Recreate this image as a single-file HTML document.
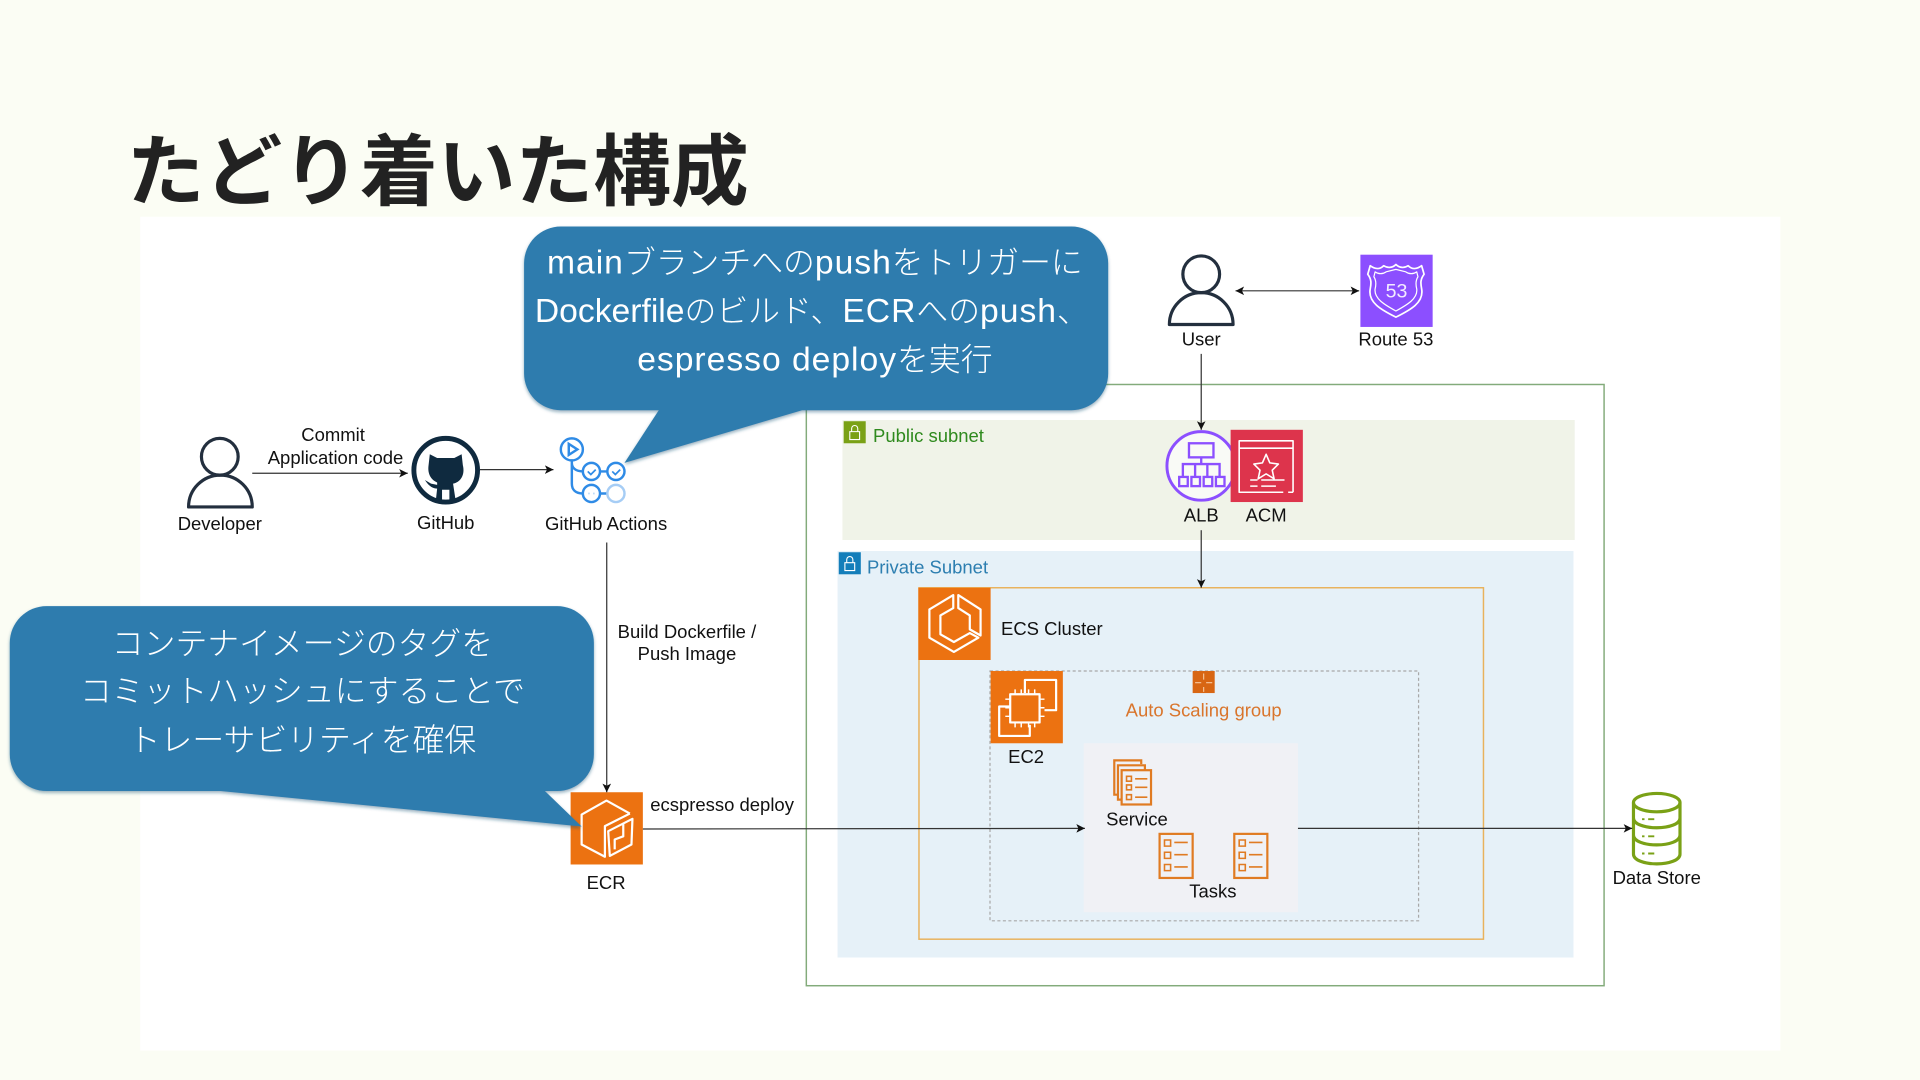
<!DOCTYPE html>
<html lang="ja"><head><meta charset="utf-8"><title>たどり着いた構成</title>
<style>html,body{margin:0;padding:0;background:#fbfdf4;width:1920px;height:1080px;overflow:hidden}svg{display:block;filter:blur(.35px)}
text{font-family:"Liberation Sans","Noto Sans CJK JP",sans-serif;fill:#111;font-size:15.1px}
.c{text-anchor:middle}
.jp{fill:#fff;font-size:26px;text-anchor:middle;font-family:"Liberation Sans","Noto Sans CJK JP",sans-serif;font-weight:300}
.jp tspan{font-size:27.5px;letter-spacing:.8px}
.a{stroke:#333;stroke-width:1;fill:none;marker-end:url(#m)}
.w{fill:none;stroke:#fff;stroke-width:1.8;stroke-linejoin:round}
.o{fill:none;stroke:#e07b22;stroke-width:1.8}
</style></head><body>
<svg width="1920" height="1080" viewBox="0 0 1568 882" xmlns="http://www.w3.org/2000/svg">
<defs>
<marker id="m" markerWidth="8" markerHeight="8" refX="7" refY="3.5" orient="auto" markerUnits="userSpaceOnUse"><path d="M0 0L7 3.5L0 7L1.7 3.5Z" fill="#111"/></marker>
<marker id="ms" markerWidth="8" markerHeight="8" refX="0" refY="3.5" orient="auto" markerUnits="userSpaceOnUse"><path d="M7 0L0 3.5L7 7L5.3 3.5Z" fill="#111"/></marker>
<filter id="sh" x="-5%" y="-5%" width="110%" height="115%"><feDropShadow dx="0" dy="1.5" stdDeviation="1.2" flood-color="#1b4f72" flood-opacity=".45"/></filter>
</defs>
<rect width="1568" height="882" fill="#fbfdf4"/>
<rect x="114.500" y="177" width="1339.500" height="681" fill="#fff"/>
<text x="103.500" y="162.500" style="font-size:63.500px;font-weight:700;fill:#222;font-family:'Noto Sans CJK JP',sans-serif">たどり着いた構成</text>

<rect x="658.5" y="314" width="651.5" height="491" fill="none" stroke="#83ab7b" stroke-width="1.2"/>
<rect x="688" y="343" width="598" height="98" fill="#f0f3e8"/>
<rect x="684" y="450" width="601" height="332" fill="#e6f1f8"/>
<rect x="689" y="344" width="18" height="18" fill="#7aa116"/>
<path d="M694 352.5h8v6.5h-8zM695.5 352.5v-2.5a2.5 2.5 0 0 1 5 0v2.5" fill="none" stroke="#fff" stroke-width=".9"/>
<text x="713" y="361" style="fill:#2f8a1e">Public subnet</text>
<rect x="685" y="451" width="18" height="18" fill="#147eba"/>
<path d="M690 459.5h8v6.5h-8zM691.5 459.5v-2.5a2.5 2.5 0 0 1 5 0v2.5" fill="none" stroke="#fff" stroke-width=".9"/>
<text x="708" y="468.5" style="fill:#2c7eb0">Private Subnet</text>
<rect x="750.5" y="480" width="461" height="287" fill="none" stroke="#e9b25c" stroke-width="1.2"/>
<rect x="808.5" y="548" width="350" height="204" fill="none" stroke="#a8a8a8" stroke-width="1" stroke-dasharray="2.500 2"/>
<rect x="885" y="607" width="175" height="138" fill="#f0f1f5"/>

<!-- ECS -->
<rect x="750" y="480" width="59" height="59" fill="#ec7211"/>
<path class="w" d="M778.500 486L759 497.700V520.800L779 532.400 799 520.800 792 517 779 524.300 768 518V502.600L778.500 496.600Z"/>
<path class="w" d="M782.600 486L800.800 497.700V519L792 514V502.600L782.600 496.600Z"/>
<text x="817.500" y="518.500">ECS Cluster</text>

<!-- EC2 -->
<rect x="809" y="548" width="59" height="59" fill="#ec7211"/>
<path class="w" d="M837 566V555.300H862.500V580H853M825 577H816V601H841V592"/>
<rect class="w" x="825" y="567" width="24" height="23"/>
<path class="w" style="stroke-width:1.200" d="M829 567v-4M834 567v-4M840 567v-4M845 567v-4M829 590v4M834 590v4M840 590v4M845 590v4M825 571h-4M825 578h-4M825 585h-4M849 571h4M849 578h4M849 585h4"/>
<text class="c" x="838" y="623">EC2</text>

<!-- ASG -->
<rect x="974" y="548" width="18" height="18" fill="#d86613"/>
<path d="M983 550v5M983 561v4M976 557.500h5M985 557.500h5" stroke="#f7c9a0" stroke-width=".9"/>
<text class="c" x="983" y="585" style="fill:#d9752c">Auto Scaling group</text>

<!-- Service -->
<g class="o"><path d="M913 649h-3v-28h22v3" /><path d="M916 653h-3v-28h22v4"/><rect x="916" y="629" width="24" height="28" fill="#f0f1f5"/>
<path d="M920 634h4v4h-4zM920 641h4v4h-4zM920 649h4v4h-4zM927 636h10M927 643h10M927 651h10" stroke-width="1.3"/></g>
<text class="c" x="928.500" y="674">Service</text>
<!-- Tasks -->
<g class="o"><rect x="947" y="681" width="27" height="36"/><path d="M951 686h5v5h-5zM951 696h5v5h-5zM951 706h5v5h-5zM959 688h11M959 698h11M959 708h11" stroke-width="1.3"/>
<rect x="1008" y="681" width="27" height="36"/><path d="M1012 686h5v5h-5zM1012 696h5v5h-5zM1012 706h5v5h-5zM1020 688h11M1020 698h11M1020 708h11" stroke-width="1.3"/></g>
<text class="c" x="990.500" y="733">Tasks</text>

<!-- Data store -->
<g fill="none" stroke="#7aa116" stroke-width="2.6">
<ellipse cx="1353" cy="655.500" rx="19" ry="7.500"/>
<path d="M1334 655.500v42c0 5 9 8 19 8s19-3 19-8v-42M1334 668c0 5 9 8 19 8s19-3 19-8M1334 682c0 5 9 8 19 8s19-3 19-8"/></g>
<path d="M1341 669h2M1346 669h5M1341 683h2M1346 683h5M1341 697h2M1346 697h5" stroke="#7aa116" stroke-width="1.600"/>
<text class="c" x="1353" y="722">Data Store</text>

<!-- ECR -->
<rect x="466" y="647" width="59" height="59" fill="#ec7211"/>
<path class="w" d="M514.400 664.400L495.300 653.800 475 665.200V689.700L494 699.700V674.700L514.400 664.400"/>
<path class="w" d="M516.500 668.700L496.700 678.800 498 699 515.700 689.700Z"/>
<path class="w" d="M502 693.700V685.600L509 683V673"/>

<!-- Arrows -->
<line class="a" x1="206" y1="386.5" x2="333" y2="386.5"/>
<line class="a" x1="392" y1="383.5" x2="452" y2="383.5"/>
<line class="a" x1="495.5" y1="443" x2="495.5" y2="647"/>
<line class="a" x1="525" y1="677" x2="886" y2="676.5"/>
<line class="a" x1="1060" y1="676.5" x2="1333" y2="676.5"/>
<line class="a" x1="1009" y1="237.5" x2="1110" y2="237.5" marker-start="url(#ms)"/>
<line class="a" x1="981" y1="289" x2="981" y2="351"/>
<line class="a" x1="981" y1="433" x2="981" y2="480"/>

<!-- Developer -->
<g fill="none" stroke="#232f3e" stroke-width="2.6"><circle cx="179.500" cy="373" r="15"/><path d="M154 414a26 26 0 0 1 52 0z" stroke-linejoin="round"/></g>
<text class="c" x="179.500" y="433">Developer</text>
<text class="c" x="272" y="360">Commit</text>
<text class="c" x="274" y="379">Application code</text>

<!-- GitHub -->
<circle cx="364" cy="384" r="26" fill="#fff" stroke="#0f2a3f" stroke-width="4"/>
<path d="M351 371l6 3h14l6-3 1 9c2 8-2 14-8 15l2 13h-5v-8h-6v8h-5l1-9c-5 0-8-4-10-7l5 3 5 1v-2c-5-2-8-7-7-14z" fill="#0f2a3f"/>
<text class="c" x="364" y="432">GitHub</text>

<!-- GitHub Actions -->
<g fill="none" stroke="#2f8be6" stroke-width="2">
<circle cx="467" cy="367" r="9"/><path d="M464.500 362.500l7 4.500-7 4.500z"/>
<path d="M467 376v19c0 5 3 8 9 8M467 378c0 4 3 7 9 7M490 385h6M490 403h6"/>
<circle cx="483" cy="385" r="7"/><circle cx="503" cy="385" r="7"/><circle cx="483" cy="403" r="7"/>
<circle cx="503" cy="403" r="7" stroke="#a6cdf5"/>
<path d="M480 385l2.500 2.500 4-4M500 385l2.500 2.500 4-4" stroke-width="1.400"/>
<path d="M480.500 403h1M484.500 403h1" stroke="#a6cdf5" stroke-width="1.400"/></g>
<text class="c" x="495" y="433">GitHub Actions</text>
<text class="c" x="561" y="521">Build Dockerfile /</text>
<text class="c" x="561" y="539">Push Image</text>
<text x="531" y="662.500">ecspresso deploy</text>
<text class="c" x="495" y="726">ECR</text>

<!-- User / Route 53 -->
<g fill="none" stroke="#232f3e" stroke-width="2.6"><circle cx="981" cy="224" r="15"/><path d="M955 265a26 26 0 0 1 52 0z" stroke-linejoin="round"/></g>
<text class="c" x="981" y="282">User</text>
<rect x="1111" y="208" width="59" height="59" fill="#8c4fff"/>
<path class="w" style="stroke-width:1.4" d="M1119 217c4 3 8 3 11 0 3 2 7 2 10-1 3 3 7 3 10 1 3 3 7 3 11 0l2 7c-3 4-3 7-2 12 2 11-9 17-21 23-12-6-23-12-21-23 1-5 1-8-2-12z"/>
<path class="w" style="stroke-width:1" d="M1123 222c3 2 6 2 9 0l8-2 8 2c3 2 6 2 9 0l1 4c-2 3-2 6-1 10 1 8-8 13-17 18-9-5-18-10-17-18 1-4 1-7-1-10z"/>
<text class="c" x="1140.500" y="243" style="fill:#f3ecff;font-size:16px">53</text>
<text class="c" x="1140" y="282">Route 53</text>

<!-- ALB / ACM -->
<circle cx="981" cy="380.500" r="28" fill="#fff" stroke="#8c4fff" stroke-width="2.400" fill-opacity=".6"/>
<g fill="none" stroke="#8c4fff" stroke-width="1.900"><rect x="971" y="362" width="20" height="11.500"/>
<path d="M981 373.500v5.500M966 389v-10h30v10M976 389v-10M986 389v-10"/>
<rect x="963" y="389.500" width="7" height="7.500"/><rect x="973" y="389.500" width="7" height="7.500"/><rect x="983" y="389.500" width="7" height="7.500"/><rect x="993" y="389.500" width="7" height="7.500"/></g>
<rect x="1005" y="351" width="59" height="59" fill="#dd344c"/>
<path class="w" style="stroke-width:1.3" d="M1056 402v-42h-44v42h36M1052 402h4M1012 366h44M1034 371l3 7 7 1-5 5 1.500 7-6.500-4-6.500 4 1.500-7-5-5 7-1zM1021 392h6M1030 392h19M1021 397h6M1030 397h12"/>
<text class="c" x="981" y="426">ALB</text>
<text class="c" x="1034" y="426">ACM</text>

<!-- Callouts -->
<g filter="url(#sh)"><path fill="#2f7cae" d="M458 185H875a30 30 0 0 1 30 30V305a30 30 0 0 1-30 30H655L510 378 538 335H458a30 30 0 0 1-30-30V215a30 30 0 0 1 30-30z"/></g>
<text class="jp" x="665.500" y="223.500"><tspan>main</tspan>ブランチへの<tspan>push</tspan>をトリガーに</text>
<text class="jp" x="663" y="263"><tspan style="letter-spacing:0">Dockerfile</tspan>のビルド、<tspan>ECR</tspan>への<tspan>push</tspan>、</text>
<text class="jp" x="665.500" y="302.500"><tspan>espresso deploy</tspan>を実行</text>
<g filter="url(#sh)"><path fill="#2f7cae" d="M38 495H455a30 30 0 0 1 30 30V616a30 30 0 0 1-30 30H445L475 675 180 646H38a30 30 0 0 1-30-30V525a30 30 0 0 1 30-30z"/></g>
<text class="jp" x="247" y="534.500">コンテナイメージのタグを</text>
<text class="jp" x="247" y="573.500">コミットハッシュにすることで</text>
<text class="jp" x="247" y="613.500">トレーサビリティを確保</text>
</svg>
</body></html>
